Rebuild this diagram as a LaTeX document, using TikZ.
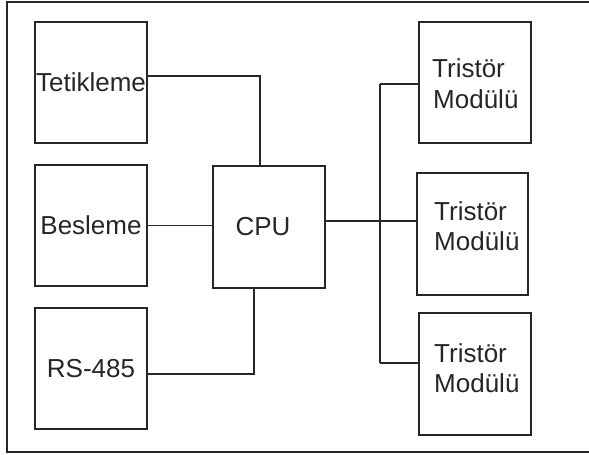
\documentclass[tikz,border=0pt]{standalone}
\usepackage{fontspec}
\setmainfont{Liberation Sans}
\begin{document}
\begin{tikzpicture}[x=1pt,y=-1pt,
  every node/.style={font=\fontsize{26}{31}\selectfont, text=black!85},
  blockbox/.style={draw=black!85, line width=1.3pt, minimum width=112pt, minimum height=121pt, inner sep=0pt},
  wire/.style={draw=black!85, line width=1.3pt},
  lbl/.style={anchor=base west, inner sep=0pt}]
\useasboundingbox (0,0) rectangle (589,455);
% outer frame (right side cut off)
\draw[wire] (595,2) -- (7,2) -- (7,452) -- (595,452);
% left blocks
\node[blockbox] (tet) at (91,82.5) {Tetikleme};
\node[blockbox] (bes) at (91,225.5) {Besleme};
\node[blockbox] (rs) at (91,368.5) {RS-485};
% cpu
\node[blockbox, minimum height=122pt] (cpu) at (269,227) {\hspace*{-12pt}CPU};
% right blocks
\node[blockbox] (t1) at (475,82.5) {};
\node[blockbox, minimum width=111pt, minimum height=122pt] (t2) at (472.5,234) {};
\node[blockbox, minimum height=122pt] (t3) at (475,374) {};
\node[lbl] (t1a) at (432,77) {Tristör};
\node[lbl] (t1b) at (433,108) {Modülü};
\node[lbl] (t2a) at (434,220) {Tristör};
\node[lbl] (t2b) at (434,250) {Modülü};
\node[lbl] (t3a) at (434,362) {Tristör};
\node[lbl] (t3b) at (434,392) {Modülü};
% bus
\coordinate (bustop) at (380,84);
\coordinate (busbot) at (380,363);
\coordinate (busmid) at (380,221);
\coordinate (busmid2) at (380,221);
% connectors
\draw[wire] ([yshift=6.5pt]tet.east) -| ([xshift=-9pt]cpu.north);
\draw[wire] (bes.east) -- (bes.east -| cpu.west);
\draw[wire] ([yshift=-5.5pt]rs.east) -| ([xshift=-15pt]cpu.south);
\draw[wire] ([yshift=6pt]cpu.east) -- (busmid);
\draw[wire] (bustop) -- (busbot);
\draw[wire] (bustop) -- ([yshift=-1.5pt]t1.west);
\draw[wire] (busmid2) -- ([yshift=13pt]t2.west);
\draw[wire] (busbot) -- ([yshift=11pt]t3.west);
\end{tikzpicture}
\end{document}
